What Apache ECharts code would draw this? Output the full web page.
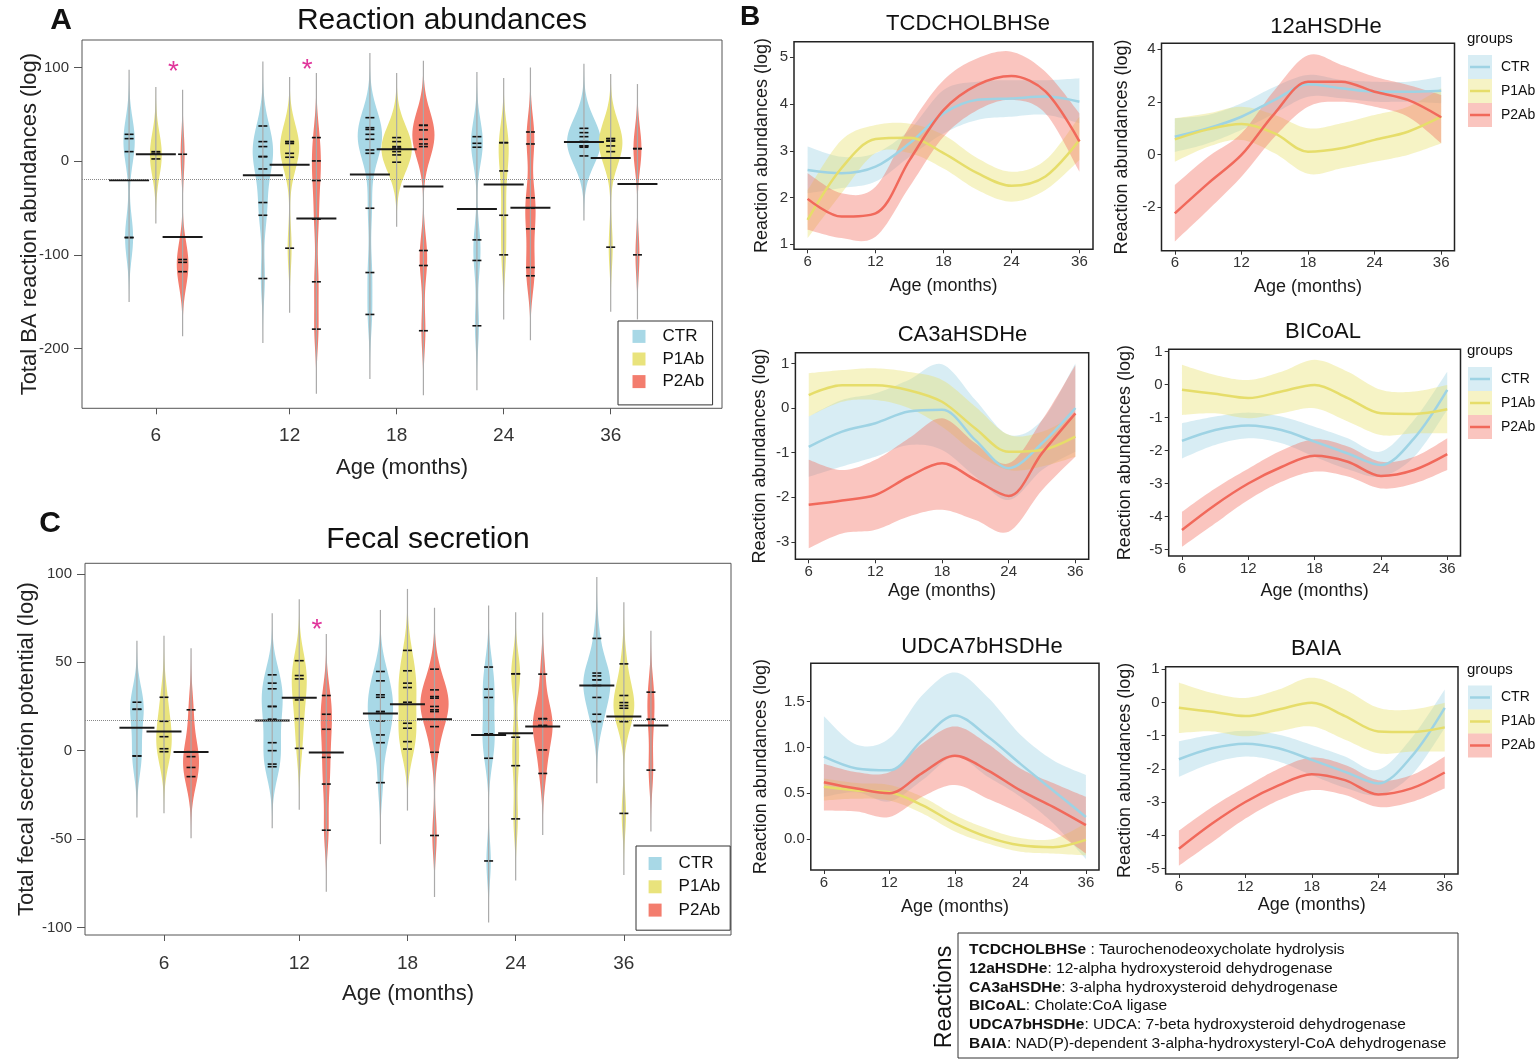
<!DOCTYPE html>
<html lang="en">
<head>
<meta charset="UTF-8">
<title>Bile acid reactions</title>
<script src="https://cdn.jsdelivr.net/npm/echarts@6/dist/echarts.min.js"></script>
<style>
    body { margin: 0; padding: 0; background: #fff; }
    #main { width: 1540px; height: 1060px; }
</style>
</head>
<body>
<div id="main"></div>
<script>
    const groups = ['CTR', 'P1Ab', 'P2Ab'];
    const ages = ['6', '12', '18', '24', '36'];

    // A: total BA reaction abundances (log), values per animal, one list per age
    const ctrA = [
        [28.8, 24.2, 10.3, -81.5, -81.5],
        [37.7, 21, 15.7, 5, 5, -8.2, -44.1, -57.7, -125.3],
        [46.6, 35.9, 34, 28.8, 23.5, 12.1, 8.5, -50.2, -118.9, -163.7],
        [26.3, 19.2, 15, -84, -106, -175.8],
        [35.2, 30.6, 26.3, 21, 21, 16.4, 16.4, 15, 5.7]
    ];
    const p1A = [
        [10.3, 8.5, 2.5],
        [21, 21, 19, 8.5, 4.3, -92.9],
        [25.3, 21, 15.7, 13.9, 13.9, 10.3, 6.8, -1],
        [19.9, 19.9, -10.3, -57.7, -100],
        [24.2, 24.2, 21.7, 21.7, 16.4, 10.3, -91.8]
    ];
    const p2A = [
        [7.5, -105, -108, -118],
        [25.3, 0.4, -20.6, -61.9, -128.8, -179.4],
        [38.4, 38.4, 33.5, 23.5, 18.5, 15.7, -95.4, -111.4, -181.1],
        [31.3, 18.5, -39.1, -50.2, -72.2, -113.5, -122.4],
        [13.5, 13.5, -100]
    ];
    const ctrMeanA = [-20.3, -15, -14.2, -50.9, 20.6];
    const p1MeanA = [7.5, -3.6, 12.8, -24.9, 3.6];
    const p2MeanA = [-80.8, -61.2, -27, -49.8, -24.2];
    const overallA = -19.2;
    const starsA = [[0, 99.7], [1, 101.8]];   // [age index, value]

    // C: total fecal secretion potential (log)
    const ctrC = [
        [27.4, 23.4, 23.4, -3, -3],
        [42.9, 38.2, 35, 25, 25, 17.8, 4.5, 0, -7.6, -9.1],
        [44.8, 39.5, 31.6, 30.2, 22.1, 22.1, 16.8, 8.9, 4.5, -18.1],
        [47.3, 34.8, 30.1, 9.5, 9.5, -4.3, -62.4],
        [63.5, 43.9, 42.3, 40.1, 40.1, 36.9, 30.1, 20.6, 16.4]
    ];
    const p1C = [
        [30.2, 16.6, 7.9, 1.1, -0.6],
        [50.9, 42.5, 40.6, 28.7, 18.1, 1.3],
        [56.7, 45.2, 38.2, 35.7, 27.4, 15.5, 12.7, 5.1, 0.9],
        [43.5, 43.5, 7.6, -8.5, -38.6],
        [49.1, 31.2, 27.2, 25.5, 24, 16.4, -35.5]
    ];
    const p2C = [
        [23.1, -0.6, -3.4, -9.5, -14.7],
        [31.2, 20.6, 12.1, -3.8, -18.9, -45],
        [46.1, 34.4, 30.6, 29.7, 25, 23.1, 22.1, 13.6, -0.9, -48],
        [43.3, 18.1, 18.1, 14.2, 14.2, 0.4, -12.9],
        [33.1, 17.8, -11]
    ];
    const ctrMeanC = [13, 17, 21, 8.9, 36.9];
    const p1MeanC = [10.8, 30, 26.3, 9.8, 19.3];
    const p2MeanC = [-0.8, -1.1, 17.8, 13.6, 14.2];
    const overallC = 17.4;
    const starsC = [[1, 70.6]];

    // B: smoothed reaction abundances, sampled at age slots 1..5 (6..36 months)
    const bx = [1, 1.5, 2, 2.5, 3, 3.5, 4, 4.5, 5];
    const tcdchol = {
        CTR:  { fit: [2.59, 2.52, 2.66, 3.16, 3.80, 4.09, 4.12, 4.16, 4.05],
                lo:  [2.09, 2.20, 2.34, 2.87, 3.37, 3.66, 3.73, 3.77, 3.59],
                hi:  [3.09, 2.87, 2.95, 3.45, 4.30, 4.48, 4.51, 4.51, 4.55] },
        P1Ab: { fit: [1.52, 2.63, 3.25, 3.28, 2.95, 2.52, 2.25, 2.45, 3.23],
                lo:  [1.13, 2.09, 2.95, 2.95, 2.62, 2.16, 1.91, 2.16, 2.80],
                hi:  [2.16, 3.23, 3.55, 3.58, 3.34, 2.84, 2.55, 2.80, 3.73] },
        P2Ab: { fit: [1.97, 1.59, 1.66, 2.80, 3.87, 4.41, 4.60, 4.27, 3.20],
                lo:  [1.31, 1.13, 1.16, 2.23, 3.30, 3.87, 4.09, 3.80, 2.55],
                hi:  [2.52, 2.09, 2.23, 3.52, 4.51, 4.98, 5.12, 4.69, 3.80] }
    };
    const hsdh12 = {
        CTR:  { fit: [0.68, 1.00, 1.44, 2.08, 2.67, 2.52, 2.39, 2.39, 2.43],
                lo:  [0.10, 0.43, 0.94, 1.57, 2.20, 2.14, 2.01, 2.01, 1.95],
                hi:  [1.38, 1.51, 1.95, 2.58, 3.03, 2.84, 2.77, 2.77, 2.96] },
        P1Ab: { fit: [0.58, 0.96, 1.16, 0.81, 0.11, 0.24, 0.56, 0.87, 1.44],
                lo:  [-0.27, 0.30, 0.56, 0.05, -0.73, -0.52, -0.27, -0.01, 0.43],
                hi:  [1.38, 1.57, 1.82, 1.51, 1.00, 1.19, 1.51, 1.82, 2.52] },
        P2Ab: { fit: [-2.23, -1.09, -0.01, 1.57, 2.77, 2.77, 2.39, 2.08, 1.42],
                lo:  [-3.30, -2.10, -0.84, 0.68, 1.82, 2.01, 1.82, 1.44, 0.43],
                hi:  [-1.15, -0.08, 0.81, 2.46, 3.78, 3.41, 2.96, 2.65, 2.27] }
    };
    const ca3a = {
        CTR:  { fit: [-0.87, -0.53, -0.34, -0.08, -0.04, -0.72, -1.35, -0.79, 0.00],
                lo:  [-1.54, -1.31, -1.09, -0.83, -0.94, -1.54, -2.06, -1.39, -0.98],
                hi:  [-0.19, 0.18, 0.33, 0.63, 0.98, 0.18, -0.60, -0.27, 1.00] },
        P1Ab: { fit: [0.29, 0.51, 0.51, 0.40, 0.14, -0.46, -0.98, -0.94, -0.64],
                lo:  [-0.19, 0.14, 0.18, 0.00, -0.42, -1.01, -1.39, -1.31, -1.09],
                hi:  [0.78, 0.85, 0.89, 0.81, 0.63, 0.03, -0.60, -0.53, -0.15] },
        P2Ab: { fit: [-2.17, -2.07, -1.95, -1.54, -1.24, -1.61, -1.97, -1.01, -0.12],
                lo:  [-3.14, -2.81, -2.73, -2.43, -2.28, -2.51, -2.77, -1.84, -1.09],
                hi:  [-1.16, -1.39, -1.16, -0.68, -0.23, -0.79, -1.24, -0.27, 0.96] }
    };
    const bicoal = {
        CTR:  { fit: [-1.71, -1.38, -1.24, -1.38, -1.73, -2.09, -2.44, -1.63, -0.16],
                lo:  [-2.24, -1.83, -1.63, -1.78, -2.19, -2.57, -2.79, -2.19, -0.77],
                hi:  [-1.17, -0.97, -0.85, -0.97, -1.28, -1.63, -2.03, -1.07, 0.39] },
        P1Ab: { fit: [-0.16, -0.28, -0.41, -0.21, -0.01, -0.41, -0.87, -0.89, -0.75],
                lo:  [-0.92, -0.87, -1.02, -0.87, -0.72, -1.12, -1.53, -1.48, -1.48],
                hi:  [0.60, 0.29, 0.14, 0.39, 0.75, 0.39, -0.16, -0.21, -0.01] },
        P2Ab: { fit: [-4.41, -3.65, -3.00, -2.50, -2.16, -2.34, -2.77, -2.59, -2.11],
                lo:  [-4.92, -4.21, -3.50, -2.95, -2.64, -2.79, -3.15, -3.00, -2.59],
                hi:  [-3.86, -3.15, -2.55, -2.00, -1.66, -1.88, -2.34, -2.19, -1.63] }
    };
    const udca7b = {
        CTR:  { fit: [0.90, 0.77, 0.75, 1.08, 1.35, 1.12, 0.82, 0.53, 0.24],
                lo:  [0.46, 0.51, 0.41, 0.64, 0.90, 0.68, 0.46, 0.17, -0.22],
                hi:  [1.34, 1.03, 1.10, 1.57, 1.82, 1.55, 1.14, 0.86, 0.70] },
        P1Ab: { fit: [0.57, 0.53, 0.51, 0.37, 0.17, 0.02, -0.07, -0.09, -0.01],
                lo:  [0.42, 0.44, 0.42, 0.28, 0.08, -0.05, -0.14, -0.16, -0.18],
                hi:  [0.66, 0.61, 0.59, 0.46, 0.26, 0.11, 0.01, 0.00, 0.17] },
        P2Ab: { fit: [0.62, 0.55, 0.50, 0.72, 0.91, 0.75, 0.53, 0.35, 0.15],
                lo:  [0.31, 0.30, 0.24, 0.46, 0.59, 0.44, 0.28, 0.09, -0.16],
                hi:  [0.82, 0.73, 0.73, 1.04, 1.23, 1.04, 0.77, 0.61, 0.46] }
    };
    // BAIA curves read the same as BICoAL in the figure
    const baia = bicoal;

    const reactionCodes = ['TCDCHOLBHSe', '12aHSDHe', 'CA3aHSDHe', 'BICoAL', 'UDCA7bHSDHe', 'BAIA'];
    const reactionNames = [
        ' : Taurochenodeoxycholate hydrolysis',
        ': 12-alpha hydroxysteroid dehydrogenase',
        ': 3-alpha hydroxysteroid dehydrogenase',
        ': Cholate:CoA ligase',
        ': UDCA: 7-beta hydroxysteroid dehydrogenase',
        ': NAD(P)-dependent 3-alpha-hydroxysteryl-CoA dehydrogenase'
    ];

    /* layout + styles */
    const FONT = '"Liberation Sans", Arial, Helvetica, sans-serif';
    const ageSlots = [1, 2.25, 3.25, 4.25, 5.25];
    const violinColors = { CTR: '#A8D8E6', P1Ab: '#E9E37C', P2Ab: '#F37D6E' };
    const lineColors = { CTR: '#9ED3E4', P1Ab: '#E6DD6A', P2Ab: '#F1695B' };
    const bandColors = { CTR: 'rgba(158,211,228,0.4)', P1Ab: 'rgba(232,224,110,0.4)', P2Ab: 'rgba(242,110,95,0.4)' };

    const bPanels = [
        { title: 'TCDCHOLBHSe', fits: tcdchol, box: [794, 41.7, 299, 207.6], yRange: [0.89, 5.335], yTicks: [1, 2, 3, 4, 5], digits: 0, head: [968, 24], yGap: 23, xGap: 28 },
        { title: '12aHSDHe', fits: hsdh12, box: [1161.5, 43.3, 293, 207.4], yRange: [-3.65, 4.23], yTicks: [-2, 0, 2, 4], digits: 0, head: [1326, 27], yGap: 30, xGap: 27 },
        { title: 'CA3aHSDHe', fits: ca3a, box: [795.4, 352.7, 293.3, 206.6], yRange: [-3.39, 1.24], yTicks: [-3, -2, -1, 0, 1], digits: 0, head: [962.5, 335], yGap: 26, xGap: 23 },
        { title: 'BICoAL', fits: bicoal, box: [1168.7, 349.3, 291.8, 206.7], yRange: [-5.2, 1.07], yTicks: [-5, -4, -3, -2, -1, 0, 1], digits: 0, head: [1323, 332], yGap: 35, xGap: 26 },
        { title: 'UDCA7bHSDHe', fits: udca7b, box: [810.8, 663.3, 288.2, 206.7], yRange: [-0.34, 1.92], yTicks: [0, 0.5, 1, 1.5], digits: 1, head: [982, 647], yGap: 41, xGap: 28 },
        { title: 'BAIA', fits: baia, box: [1165.6, 666.7, 292.4, 207.3], yRange: [-5.17, 1.08], yTicks: [-5, -4, -3, -2, -1, 0, 1], digits: 0, head: [1316, 649], yGap: 32, xGap: 22 }
    ];

    // violin (bean) for one group: density outline, beanlines, bean mean
    function violin(name, gi, pts, means, shift, bw, kScale, meanHalf, overall) {
        const s = {
            type: 'custom',
            name: name,
            xAxisIndex: gi,
            yAxisIndex: gi,
            silent: true,
            itemStyle: { color: violinColors[name] },
            data: means.map((m, i) => [ageSlots[i] + shift, m]),
            renderItem(params, api) {
                const vals = pts[params.dataIndex];
                const xv = api.value(0);
                const cx = api.coord([xv, 0])[0];
                const lo = Math.min(...vals) - 3 * bw;
                const hi = Math.max(...vals) + 3 * bw;
                const right = [], left = [];
                for (let k = 0; k <= 90; k++) {
                    const v = lo + (hi - lo) * k / 90;
                    let d = 0;
                    vals.forEach(p => { const z = (v - p) / bw; d += Math.exp(-0.5 * z * z); });
                    const py = api.coord([xv, v])[1];
                    right.push([cx + d * kScale, py]);
                    left.unshift([cx - d * kScale, py]);
                }
                const kids = [{ type: 'polygon', z2: 1, shape: { points: right.concat(left) }, style: { fill: violinColors[name] } }];
                vals.forEach(p => {
                    const py = api.coord([xv, p])[1];
                    kids.push({ type: 'line', z2: 3, shape: { x1: cx - 4.5, y1: py, x2: cx + 4.5, y2: py }, style: { stroke: '#111', lineWidth: 1.6 } });
                });
                kids.push({ type: 'line', z2: 4, shape: { x1: cx, y1: api.coord([xv, lo])[1], x2: cx, y2: api.coord([xv, hi])[1] }, style: { stroke: '#aaa', lineWidth: 1.2 } });
                const my = api.coord([xv, api.value(1)])[1];
                kids.push({ type: 'line', z2: 10, shape: { x1: cx - meanHalf, y1: my, x2: cx + meanHalf, y2: my }, style: { stroke: '#1a1a1a', lineWidth: 2 } });
                return { type: 'group', children: kids };
            }
        };
        if (overall !== undefined) {
            s.markLine = {
                silent: true, symbol: 'none', label: { show: false },
                lineStyle: { type: 'dotted', color: '#888', width: 1 },
                data: [{ yAxis: overall }]
            };
        }
        return s;
    }

    function stars(gi, list) {
        return {
            type: 'custom', xAxisIndex: gi, yAxisIndex: gi, silent: true,
            data: list.map(s => [ageSlots[s[0]] + 0.15, s[1]]),
            renderItem(params, api) {
                const p = api.coord([api.value(0), api.value(1)]);
                return {
                    type: 'text', x: p[0] + 1.5, y: p[1] + 4, z2: 20,
                    style: { text: '*', fontSize: 28, fontFamily: FONT, fill: '#E0359B',
                        align: 'center', verticalAlign: 'middle', textAlign: 'center', textVerticalAlign: 'middle' }
                };
            }
        };
    }

    // Catmull-Rom path through pixel points (used to draw the smooth band edges)
    function spline(pts, seg) {
        const out = [];
        const n = pts.length;
        for (let i = 0; i < n - 1; i++) {
            const p0 = pts[Math.max(i - 1, 0)], p1 = pts[i], p2 = pts[i + 1], p3 = pts[Math.min(i + 2, n - 1)];
            for (let t = 0; t < seg; t++) {
                const s = t / seg, s2 = s * s, s3 = s2 * s;
                const f = k => 0.5 * (2 * p1[k] + (p2[k] - p0[k]) * s + (2 * p0[k] - 5 * p1[k] + 4 * p2[k] - p3[k]) * s2 + (3 * p1[k] - p0[k] - 3 * p2[k] + p3[k]) * s3);
                out.push([f(0), f(1)]);
            }
        }
        out.push(pts[n - 1]);
        return out;
    }

    function band(gi, c, color) {
        return {
            type: 'custom', xAxisIndex: gi, yAxisIndex: gi, silent: true, z: 2,
            data: bx.map((x, i) => [x, c.lo[i], c.hi[i]]),
            renderItem(params, api) {
                if (params.dataIndex !== 0) return null;
                const top = bx.map((x, i) => api.coord([x, c.hi[i]]));
                const bot = bx.map((x, i) => api.coord([x, c.lo[i]]));
                return { type: 'polygon', shape: { points: spline(top, 12).concat(spline(bot, 12).reverse()) }, style: { fill: color } };
            }
        };
    }

    function txt(text, x, y, size, weight, align) {
        return {
            type: 'text', x: x, y: y,
            style: { text: text, fontSize: size, fontWeight: weight || 'normal', fontFamily: FONT, fill: '#111',
                align: align || 'center', verticalAlign: 'middle', textAlign: align || 'center', textVerticalAlign: 'middle' }
        };
    }

    function groupsKey(top) {
        const els = [txt('groups', 1467, top, 15, 'normal', 'left')];
        groups.forEach((g, i) => {
            const cy = top + 28 + i * 24;
            els.push({ type: 'rect', shape: { x: 1468, y: cy - 12, width: 24, height: 24 }, style: { fill: bandColors[g] } });
            els.push({ type: 'line', shape: { x1: 1470, y1: cy, x2: 1490, y2: cy }, style: { stroke: lineColors[g], lineWidth: 2.5 } });
            els.push(txt(g, 1501, cy, 14, 'normal', 'left'));
        });
        return els;
    }

    const grids = [
        { left: 82, top: 40, width: 640, height: 368.3 },
        { left: 85, top: 563.3, width: 646, height: 371.7 }
    ].map(g => Object.assign(g, { show: true, borderColor: '#555', borderWidth: 1, outerBoundsMode: 'none' }));

    const axisText = { color: '#333', fontFamily: FONT };
    const xAxes = [
        { range: [0.31, 6.29], gap: 49, margin: 18 },
        { range: [0.27, 6.24], gap: 48, margin: 19.5 }
    ].map((a, gi) => ({
        gridIndex: gi, type: 'value', min: a.range[0], max: a.range[1],
        axisLine: { show: false, onZero: false }, splitLine: { show: false },
        axisTick: { customValues: ageSlots, length: 6, lineStyle: { color: '#555' } },
        axisLabel: Object.assign({ customValues: ageSlots, formatter: v => ages[ageSlots.indexOf(v)], fontSize: 19, margin: a.margin }, axisText),
        name: 'Age (months)', nameLocation: 'middle', nameGap: a.gap, nameMoveOverlap: false,
        nameTextStyle: { fontSize: 22, color: '#222', fontFamily: FONT }
    }));
    const yAxes = [
        { range: [-264, 129.6], ticks: [-200, -100, 0, 100], name: 'Total BA reaction abundances (log)', gap: 41 },
        { range: [-104.3, 106], ticks: [-100, -50, 0, 50, 100], name: 'Total fecal secretion potential (log)', gap: 47 }
    ].map((a, gi) => ({
        gridIndex: gi, type: 'value', min: a.range[0], max: a.range[1],
        axisLine: { show: false, onZero: false }, splitLine: { show: false },
        axisTick: { customValues: a.ticks, length: 8, lineStyle: { color: '#555' } },
        axisLabel: Object.assign({ customValues: a.ticks, fontSize: 15, margin: 13 }, axisText),
        name: a.name, nameLocation: 'middle', nameGap: a.gap, nameMoveOverlap: false,
        nameTextStyle: { fontSize: 22, color: '#222', fontFamily: FONT }
    }));

    const series = [
        violin('CTR', 0, ctrA, ctrMeanA, -0.25, 23, 2.0, 20, overallA),
        violin('P1Ab', 0, p1A, p1MeanA, 0, 23, 2.0, 20),
        violin('P2Ab', 0, p2A, p2MeanA, 0.25, 23, 2.0, 20),
        stars(0, starsA),
        violin('CTR', 1, ctrC, ctrMeanC, -0.25, 11.6, 2.2, 17.5, overallC),
        violin('P1Ab', 1, p1C, p1MeanC, 0, 11.6, 2.2, 17.5),
        violin('P2Ab', 1, p2C, p2MeanC, 0.25, 11.6, 2.2, 17.5),
        stars(1, starsC)
    ];

    const graphics = [
        txt('A', 61, 21, 30, 'bold'),
        txt('B', 750, 17, 28, 'bold'),
        txt('C', 50, 524, 30, 'bold'),
        txt('Reaction abundances', 442, 21, 30),
        txt('Fecal secretion', 428, 540, 30)
    ];

    bPanels.forEach((p, k) => {
        const gi = k + 2;
        grids.push({ left: p.box[0], top: p.box[1], width: p.box[2], height: p.box[3],
            show: true, borderColor: '#222', borderWidth: 1.5, outerBoundsMode: 'none' });
        xAxes.push({
            gridIndex: gi, type: 'value', min: 0.8, max: 5.2,
            axisLine: { show: false, onZero: false }, splitLine: { show: false },
            axisTick: { customValues: [1, 2, 3, 4, 5], length: 4, lineStyle: { color: '#333' } },
            axisLabel: Object.assign({ customValues: [1, 2, 3, 4, 5], formatter: v => ages[v - 1], fontSize: 15, margin: 5 }, axisText),
            name: 'Age (months)', nameLocation: 'middle', nameGap: p.xGap, nameMoveOverlap: false,
            nameTextStyle: { fontSize: 18, color: '#1a1a1a', fontFamily: FONT }
        });
        yAxes.push({
            gridIndex: gi, type: 'value', min: p.yRange[0], max: p.yRange[1],
            axisLine: { show: false, onZero: false }, splitLine: { show: false },
            axisTick: { customValues: p.yTicks, length: 4, lineStyle: { color: '#333' } },
            axisLabel: Object.assign({ customValues: p.yTicks, formatter: v => v.toFixed(p.digits), fontSize: 15, margin: 6 }, axisText),
            name: 'Reaction abundances (log)', nameLocation: 'middle', nameGap: p.yGap, nameMoveOverlap: false,
            nameTextStyle: { fontSize: 18, color: '#1a1a1a', fontFamily: FONT }
        });
        groups.forEach(g => series.push(band(gi, p.fits[g], bandColors[g])));
        groups.forEach(g => {
            series.push({ type: 'line', xAxisIndex: gi, yAxisIndex: gi, smooth: 0.33, symbol: 'none', silent: true, z: 3,
                data: bx.map((x, i) => [x, p.fits[g].fit[i]]),
                lineStyle: { color: lineColors[g], width: 2.5 } });
        });
        graphics.push(txt(p.title, p.head[0], p.head[1], 22));
    });

    graphics.push(...groupsKey(39), ...groupsKey(351), ...groupsKey(669.5));

    // reactions box
    graphics.push({ type: 'rect', shape: { x: 958, y: 933, width: 500, height: 125 }, style: { fill: 'none', stroke: '#333', lineWidth: 1 } });
    graphics.push({ type: 'text', x: 945, y: 997, rotation: Math.PI / 2,
        style: { text: 'Reactions', fontSize: 23, fontFamily: FONT, fill: '#111', align: 'center', verticalAlign: 'middle', textAlign: 'center', textVerticalAlign: 'middle' } });
    reactionCodes.forEach((code, i) => {
        graphics.push({ type: 'text', x: 969, y: 950 + i * 18.65,
            style: { text: '{b|' + code + '}' + reactionNames[i], fontSize: 15.5, fontFamily: FONT, fill: '#111',
                align: 'left', verticalAlign: 'middle', textAlign: 'left', textVerticalAlign: 'middle',
                rich: { b: { fontWeight: 'bold', fontSize: 15.5, fontFamily: FONT, fill: '#111' } } } });
    });

    function legendBox(left, top, pad, gap) {
        return {
            data: groups.map(g => ({ name: g, itemStyle: { color: violinColors[g] } })),
            orient: 'vertical', left: left, top: top, icon: 'rect', itemWidth: 13, itemHeight: 13, itemGap: gap,
            padding: pad, borderColor: '#333', borderWidth: 1, selectedMode: false,
            formatter: '{t|{name}}',
            textStyle: { fontSize: 17, color: '#111', fontFamily: FONT,
                rich: { t: { fontSize: 17, padding: [0, 0, 0, 12], color: '#111', fontFamily: FONT } } }
        };
    }

    const chart = echarts.init(document.getElementById('main'));
    chart.setOption({
        animation: false,
        backgroundColor: '#fff',
        textStyle: { fontFamily: FONT },
        grid: grids,
        xAxis: xAxes,
        yAxis: yAxes,
        legend: [legendBox(618, 321, [6.9, 8.5, 14.8, 14.5], 5.6), legendBox(636, 846, [9, 10, 11.6, 12.6], 6.3)],
        graphic: { elements: graphics },
        series: series
    });
</script>
</body>
</html>
